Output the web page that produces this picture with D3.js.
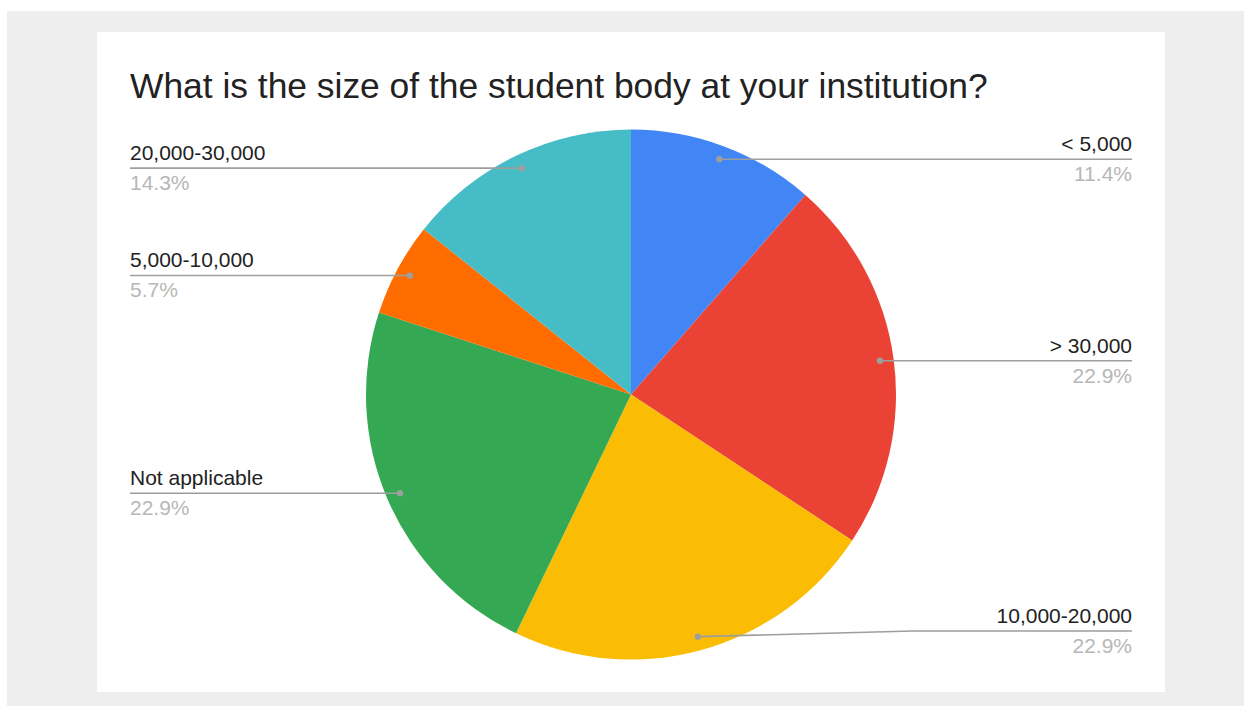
<!DOCTYPE html>
<html>
<head>
<meta charset="utf-8">
<script src="https://cdn.jsdelivr.net/npm/d3@7"></script>
<style>
  html, body { margin: 0; padding: 0; background: #ffffff; }
  svg { display: block; }
  text { font-family: "Liberation Sans", Arial, sans-serif; }
</style>
</head>
<body>
<svg id="chart" width="1244" height="706"></svg>
<script>
const title = "What is the size of the student body at your institution?";
const categories = ["< 5,000", "> 30,000", "10,000-20,000", "Not applicable", "5,000-10,000", "20,000-30,000"];
const counts = [4, 8, 8, 8, 2, 5];
const percentLabels = ["11.4%", "22.9%", "22.9%", "22.9%", "5.7%", "14.3%"];
const colors = ["#4285f4", "#ea4335", "#fbbc04", "#34a853", "#ff6d01", "#46bdc6"];

const W = 1244, H = 706;
const svg = d3.select("#chart");

// outer gray frame and white card
svg.append("rect").attr("x", 7).attr("y", 11).attr("width", W - 7).attr("height", H - 11).attr("fill", "#eeeeee");
svg.append("rect").attr("x", 97).attr("y", 32).attr("width", 1068).attr("height", 660).attr("fill", "#ffffff");

svg.append("text")
  .attr("x", 130).attr("y", 98)
  .attr("font-size", 35.4)
  .attr("fill", "#222222")
  .text(title);

const cx = 631, cy = 394.5, R = 265;
const data = categories.map((c, i) => ({ cat: c, value: counts[i], pct: percentLabels[i], color: colors[i] }));

const pie = d3.pie().value(d => d.value).sort(null);
const arcs = pie(data);
const arc = d3.arc().innerRadius(0).outerRadius(R);
const dotArc = d3.arc().innerRadius(R * 0.948).outerRadius(R * 0.948);

const g = svg.append("g").attr("transform", `translate(${cx},${cy})`);
g.selectAll("path.slice").data(arcs).enter().append("path")
  .attr("class", "slice")
  .attr("d", arc)
  .attr("fill", d => d.data.color);

const leftX = 130, rightX = 1132;
const maxLabelY = 631;
const lineColor = "#9e9e9e";

arcs.forEach(a => {
  const [dx, dy] = dotArc.centroid(a);
  const px = cx + dx, py = cy + dy;
  const mid = (a.startAngle + a.endAngle) / 2;
  const isRight = mid < Math.PI;
  const ly = Math.min(py, maxLabelY);
  const edgeX = isRight ? rightX : leftX;
  let pts;
  if (Math.abs(ly - py) > 0.5) {
    const bendX = px + (isRight ? 215 : -215);
    pts = [[px, py], [bendX, ly], [edgeX, ly]];
  } else {
    pts = [[px, py], [edgeX, ly]];
  }
  svg.append("path")
    .attr("d", d3.line()(pts))
    .attr("fill", "none")
    .attr("stroke", lineColor)
    .attr("stroke-width", 1.6);
  svg.append("circle")
    .attr("cx", px).attr("cy", py).attr("r", 3.2)
    .attr("fill", lineColor);
  svg.append("text")
    .attr("x", edgeX).attr("y", ly - 8)
    .attr("text-anchor", isRight ? "end" : "start")
    .attr("font-size", 21)
    .attr("fill", "#222222")
    .text(a.data.cat);
  svg.append("text")
    .attr("x", edgeX).attr("y", ly + 22)
    .attr("text-anchor", isRight ? "end" : "start")
    .attr("font-size", 21)
    .attr("fill", "#b7b7b7")
    .text(a.data.pct);
});
</script>
</body>
</html>
